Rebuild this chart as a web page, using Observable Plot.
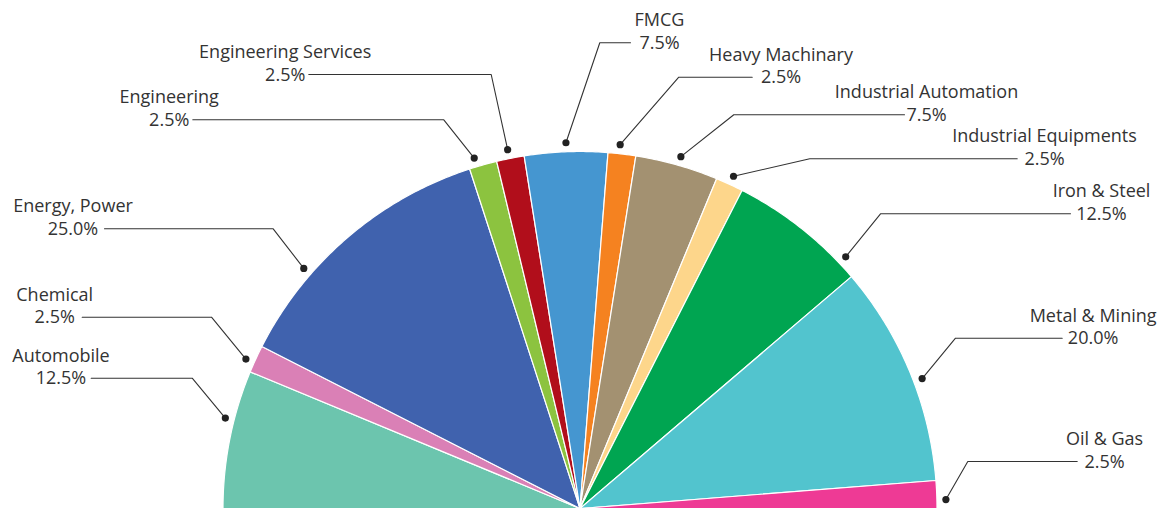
<!DOCTYPE html>
<html><head><meta charset="utf-8">
<script src="https://cdn.jsdelivr.net/npm/d3@7"></script>
<script src="https://cdn.jsdelivr.net/npm/@observablehq/plot@0.6"></script>
<style>html,body{margin:0;padding:0;background:#fff;overflow:hidden;}</style>
</head><body><div id="chart"></div>
<script>
// ---- data ----
const sectors = ["Automobile","Chemical","Energy, Power","Engineering","Engineering Services","FMCG","Heavy Machinary","Industrial Automation","Industrial Equipments","Iron & Steel","Metal & Mining","Oil & Gas"];
const shares = [12.5, 2.5, 25.0, 2.5, 2.5, 7.5, 2.5, 7.5, 2.5, 12.5, 20.0, 2.5];
// ---- styles ----
const palette = ["#6cc5ae","#da80b6","#4062ae","#8cc33f","#b10e1b","#4596d0","#f58220","#a39171","#fdd68b","#00a551","#52c4ce","#ee3a95"];
// ---- label layout (pixels): label centre x, leader y, leader end x, knee x, dot angle (deg) ----
const labelX   = [60.5, 54.2, 72.5, 168.7, 284.7, 659, 780.5, 926, 1044, 1101, 1092.6, 1104];
const leaderY  = [377.7, 316.7, 228.3, 119.3, 74, 42.3, 76.7, 114.3, 158.3, 213.3, 337.7, 461];
const leaderX0 = [90.7, 81.7, 104, 192.3, 308.3, 630, 751.7, 904, 1016.7, 1070, 1061.7, 1076.7];
const kneeX    = [191.7, 211, 272.7, 443.3, 490.7, 599.3, 678.3, 733.3, 809.3, 880, 955, 967.3];
const dotAngle = [165.7, 155.9, 139, 106.8, 101.4, 92.2, 83.7, 74, 65.2, 43.45, 20.8, 1.4];

const W = 1163, H = 508, cx = 579.5, cy = 508, R = 357, dotR = 366;

// slice polygons
const slicePts = [];
let start = Math.PI;
sectors.forEach((s, i) => {
  const sweep = shares[i] / 100 * Math.PI;
  const a0 = start, a1 = start - sweep;
  slicePts.push({sector: s, x: cx, y: cy});
  const n = Math.max(2, Math.ceil(sweep * 180 / Math.PI / 0.5));
  for (let k = 0; k <= n; ++k) {
    const a = a0 + (a1 - a0) * k / n;
    slicePts.push({sector: s, x: cx + R * Math.cos(a), y: cy - R * Math.sin(a)});
  }
  start = a1;
});

const dots = sectors.map((s, i) => {
  const a = dotAngle[i] * Math.PI / 180;
  return {sector: s, x: cx + dotR * Math.cos(a), y: cy - dotR * Math.sin(a)};
});
const leaders = [];
sectors.forEach((s, i) => {
  leaders.push({sector: s, x: leaderX0[i], y: leaderY[i]});
  leaders.push({sector: s, x: kneeX[i], y: leaderY[i]});
  leaders.push({sector: s, x: dots[i].x, y: dots[i].y});
});
const labels = sectors.map((s, i) => ({sector: s, pct: shares[i].toFixed(1) + "%", x: labelX[i], y: leaderY[i]}));

const chart = Plot.plot({
  width: W, height: H, margin: 0,
  style: {background: "#fff"},
  x: {domain: [0, W], range: [0, W], axis: null},
  y: {domain: [0, H], range: [0, H], axis: null},
  color: {domain: sectors, range: palette},
  marks: [
    Plot.line(slicePts, {x: "x", y: "y", z: "sector", fill: "sector", stroke: "#fff", strokeWidth: 1.2, curve: "linear-closed"}),
    Plot.line(leaders, {x: "x", y: "y", z: "sector", stroke: "#333", strokeWidth: 1.1}),
    Plot.dot(dots, {x: "x", y: "y", r: 3.6, fill: "#222", stroke: "none"}),
    Plot.text(labels, {x: "x", y: d => d.y - 16.5, text: "sector", textAnchor: "middle", lineAnchor: "bottom", fontSize: 18, fontFamily: "Open Sans", fill: "#333"}),
    Plot.text(labels, {x: "x", y: d => d.y + 6, text: "pct", textAnchor: "middle", lineAnchor: "bottom", fontSize: 18, fontFamily: "Open Sans", fill: "#333"})
  ]
});
document.getElementById("chart").appendChild(chart);
</script>
</body></html>
